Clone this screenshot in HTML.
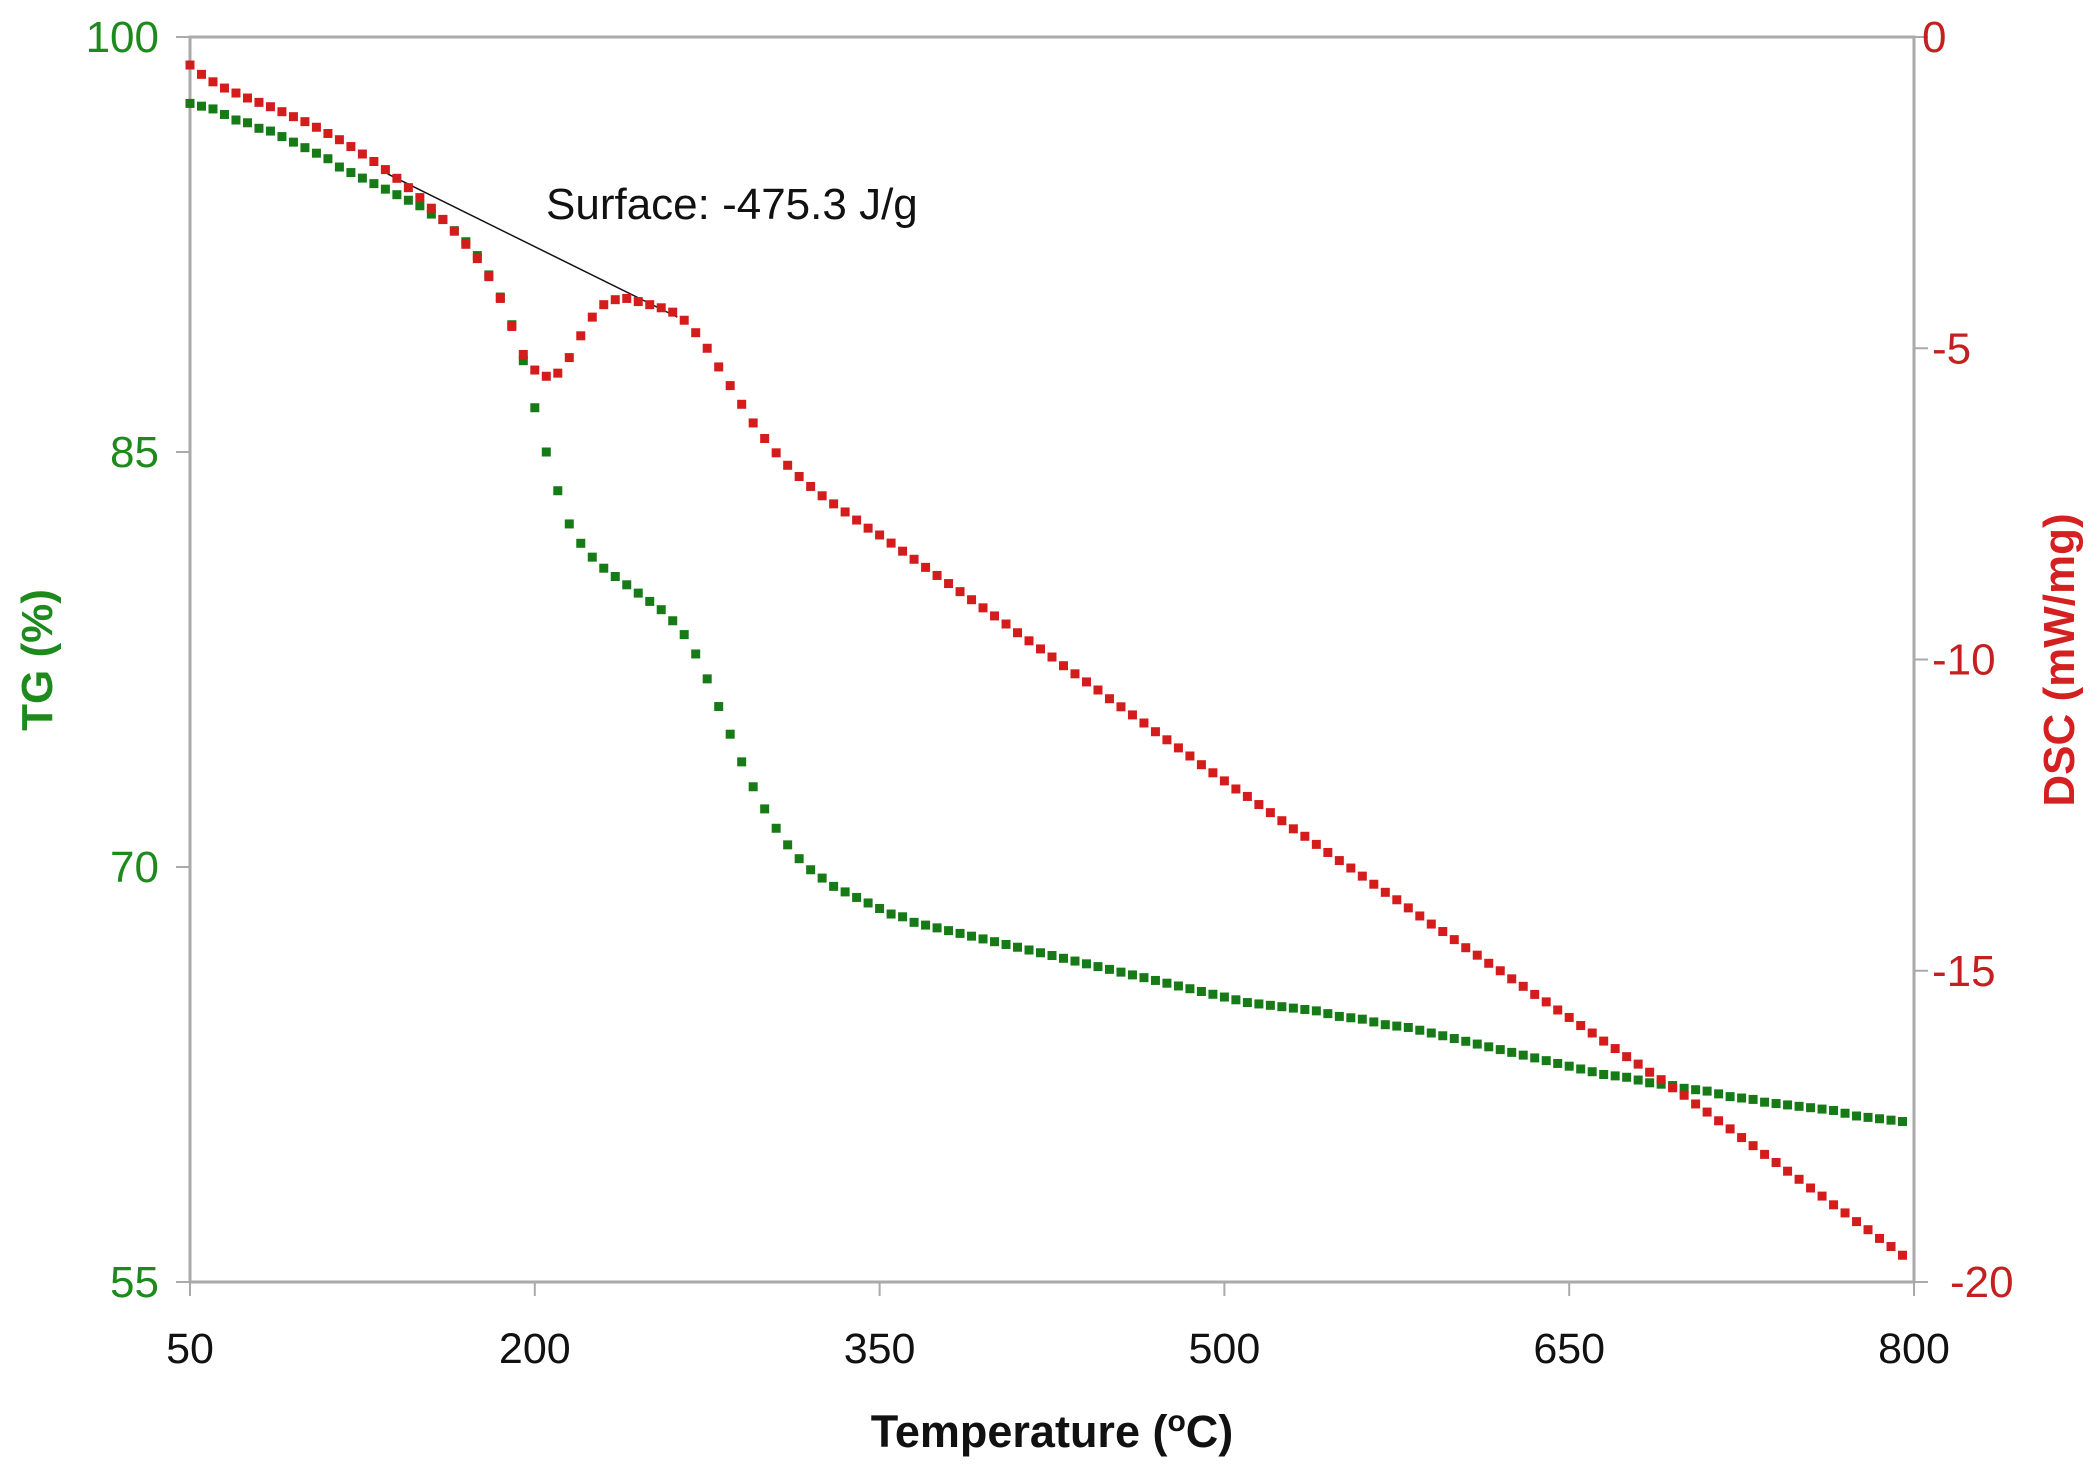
<!DOCTYPE html>
<html><head><meta charset="utf-8"><style>
html,body{margin:0;padding:0;background:#fff;}
svg{display:block;font-family:"Liberation Sans",sans-serif;}
</style></head><body>
<svg id="chart" width="2099" height="1477" viewBox="0 0 2099 1477" xmlns="http://www.w3.org/2000/svg">
<rect x="0" y="0" width="2099" height="1477" fill="#fff"/>
<g id="axes"></g>
<g id="marks"></g>
</svg>
<script>
const temps=[50,55,60,65,70,75,80,85,90,95,100,105,110,115,120,125,130,135,140,145,150,155,160,165,170,175,180,185,190,195,200,205,210,215,220,225,230,235,240,245,250,255,260,265,270,275,280,285,290,295,300,305,310,315,320,325,330,335,340,345,350,355,360,365,370,375,380,385,390,395,400,405,410,415,420,425,430,435,440,445,450,455,460,465,470,475,480,485,490,495,500,505,510,515,520,525,530,535,540,545,550,555,560,565,570,575,580,585,590,595,600,605,610,615,620,625,630,635,640,645,650,655,660,665,670,675,680,685,690,695,700,705,710,715,720,725,730,735,740,745,750,755,760,765,770,775,780,785,790,795];
const tgValues=[97.6,97.5,97.4,97.2,97.0,96.9,96.7,96.6,96.4,96.2,96.0,95.8,95.6,95.3,95.1,94.9,94.7,94.5,94.3,94.1,93.9,93.6,93.4,93.0,92.6,92.1,91.4,90.6,89.6,88.3,86.6,85.0,83.6,82.4,81.7,81.2,80.8,80.5,80.2,79.9,79.6,79.3,78.9,78.4,77.7,76.8,75.8,74.8,73.8,72.9,72.1,71.4,70.8,70.3,69.9,69.6,69.3,69.1,68.9,68.7,68.5,68.3,68.2,68.0,67.9,67.8,67.7,67.6,67.5,67.4,67.3,67.2,67.1,67.0,66.9,66.8,66.7,66.6,66.5,66.4,66.3,66.2,66.1,66.0,65.9,65.8,65.7,65.6,65.5,65.4,65.3,65.2,65.1,65.05,65.0,64.95,64.9,64.85,64.8,64.7,64.6,64.55,64.5,64.4,64.3,64.25,64.2,64.1,64.0,63.9,63.8,63.7,63.6,63.5,63.4,63.3,63.2,63.1,63.0,62.9,62.8,62.7,62.6,62.5,62.45,62.4,62.3,62.2,62.15,62.1,62.0,61.95,61.9,61.8,61.7,61.65,61.6,61.5,61.45,61.4,61.35,61.3,61.25,61.2,61.1,61.0,60.95,60.9,60.85,60.8];
const dscValues=[-0.45,-0.6,-0.72,-0.82,-0.9,-0.98,-1.05,-1.12,-1.2,-1.28,-1.36,-1.45,-1.55,-1.65,-1.76,-1.88,-2.0,-2.13,-2.27,-2.42,-2.58,-2.75,-2.93,-3.12,-3.33,-3.56,-3.85,-4.2,-4.65,-5.1,-5.35,-5.45,-5.4,-5.15,-4.8,-4.5,-4.3,-4.22,-4.2,-4.25,-4.3,-4.35,-4.42,-4.55,-4.75,-5.0,-5.3,-5.6,-5.9,-6.2,-6.45,-6.68,-6.88,-7.06,-7.22,-7.37,-7.5,-7.63,-7.76,-7.89,-8.0,-8.13,-8.26,-8.39,-8.52,-8.65,-8.78,-8.91,-9.04,-9.17,-9.3,-9.43,-9.57,-9.70,-9.83,-9.96,-10.10,-10.23,-10.36,-10.49,-10.63,-10.76,-10.89,-11.02,-11.16,-11.29,-11.42,-11.55,-11.69,-11.82,-11.95,-12.08,-12.2,-12.33,-12.46,-12.59,-12.72,-12.84,-12.97,-13.1,-13.23,-13.35,-13.48,-13.61,-13.74,-13.86,-13.99,-14.12,-14.25,-14.37,-14.5,-14.63,-14.75,-14.88,-15.0,-15.13,-15.25,-15.38,-15.5,-15.63,-15.75,-15.88,-16.0,-16.13,-16.25,-16.38,-16.5,-16.63,-16.75,-16.88,-17.0,-17.14,-17.27,-17.41,-17.54,-17.68,-17.81,-17.95,-18.08,-18.22,-18.35,-18.49,-18.62,-18.76,-18.89,-19.03,-19.16,-19.3,-19.43,-19.57];
const xTicks=[50,200,350,500,650,800];
const tgTicks=[55,70,85,100];
const dscTicks=[0,-5,-10,-15,-20];
const baselineT=[136,262];
const baselineD=[-2.2,-4.5];

const L=190,R=1914,T=37,B=1282;
const NS='http://www.w3.org/2000/svg';
const xs=v=>L+(v-50)/750*(R-L);
const yTG=v=>B-(v-55)/45*(B-T);
const yD=v=>T+(-v)/20*(B-T);
const axes=document.getElementById('axes'),marks=document.getElementById('marks');
function mk(tag,attrs,parent,text){const e=document.createElementNS(NS,tag);for(const k in attrs)e.setAttribute(k,attrs[k]);if(text!==undefined)e.textContent=text;parent.appendChild(e);return e;}

const frame=mk('rect',{x:L,y:T,width:R-L,height:B-T,fill:'none',stroke:'#aaa','stroke-width':3},axes);



xTicks.forEach(v=>{
  const x=xs(v);
  const t=mk('line',{x1:x,y1:B,x2:x,y2:B+14,stroke:'#aaa','stroke-width':2},axes);
  
  
  const lb=mk('text',{x:x,y:1363,'font-size':43,'text-anchor':'middle',fill:'#111'},axes,String(v));
  
  
});
tgTicks.forEach(v=>{
  const y=yTG(v);
  const t=mk('line',{x1:L-14,y1:y,x2:L,y2:y,stroke:'#aaa','stroke-width':2},axes);
  
  
  const lb=mk('text',{x:159,y:y+15,'font-size':44,'text-anchor':'end',fill:'#1e8a1e'},axes,String(v));
  
  
});
dscTicks.forEach(v=>{
  const y=yD(v);
  const t=mk('line',{x1:R,y1:y,x2:R+14,y2:y,stroke:'#aaa','stroke-width':2},axes);
  
  
  const lx=v===-20?1950:(v===0?1922:1932);
  const lb=mk('text',{x:lx,y:y+15,'font-size':44,'text-anchor':'start',fill:'#c42020'},axes,String(v));
  
  
});

const xt=mk('text',{x:1052,y:1447,'font-size':45,'font-weight':'bold','text-anchor':'middle',fill:'#111'},axes);


xt.innerHTML='Temperature (<tspan baseline-shift="super" font-size="30">o</tspan>C)';
const yt=mk('text',{x:0,y:0,'font-size':44,'font-weight':'bold','text-anchor':'middle',fill:'#1e8a1e',transform:'translate(52,660) rotate(-90)'},axes,'TG (%)');


const yt2=mk('text',{x:0,y:0,'font-size':44,'font-weight':'bold','text-anchor':'middle',fill:'#d42020',transform:'translate(2074,660) rotate(-90)'},axes,'DSC (mW/mg)');



const bl=mk('line',{x1:xs(baselineT[0]),y1:yD(baselineD[0]),x2:xs(baselineT[1]),y2:yD(baselineD[1]),stroke:'#111','stroke-width':1.5},marks);


const ann=mk('text',{x:546,y:219,'font-size':44,fill:'#111'},marks,'Surface: -475.3 J/g');



const s=9;
temps.forEach((t,i)=>{
  const g=mk('rect',{x:xs(t)-s/2,y:yTG(tgValues[i])-s/2,width:s,height:s,fill:'#167a16'},marks);
  
  
});
temps.forEach((t,i)=>{
  const r=mk('rect',{x:xs(t)-s/2,y:yD(dscValues[i])-s/2,width:s,height:s,fill:'#d41c1c'},marks);
  
  
});
</script>
</body></html>
